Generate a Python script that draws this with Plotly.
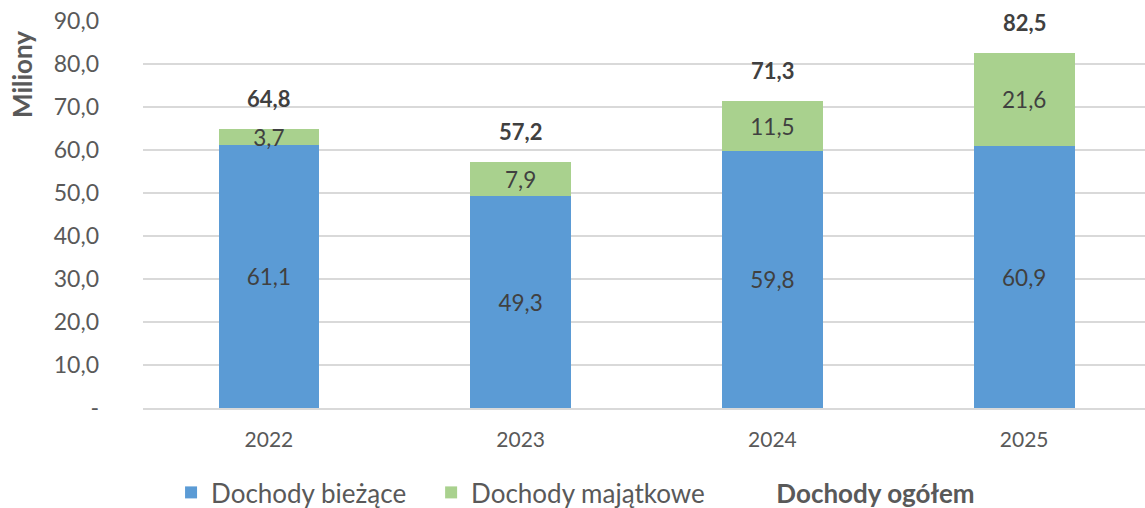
import plotly.graph_objects as go

years = ["2022", "2023", "2024", "2025"]
biezace = [61.1, 49.3, 59.8, 60.9]
majatkowe = [3.7, 7.9, 11.5, 21.6]
ogolem = [64.8, 57.2, 71.3, 82.5]

y_ticks = [0, 10, 20, 30, 40, 50, 60, 70, 80, 90]
y_ticktext = ["-", "10,0", "20,0", "30,0", "40,0", "50,0", "60,0", "70,0", "80,0", "90,0"]

BLUE = "#5B9BD5"
GREEN = "#A9D18E"
TXT = "#404040"
GRAY = "#595959"
FONT = "Lato"
NB = "\u00a0"  # padding between legend entries


def pl(v):
    return f"{v:.1f}".replace(".", ",")


fig = go.Figure()
fig.add_trace(go.Bar(
    x=years, y=biezace, name="Dochody bieżące" + NB * 3,
    marker=dict(color=BLUE, line=dict(width=0)),
    text=[pl(v) for v in biezace], textposition="inside",
    insidetextanchor="middle", textfont=dict(size=22.5, color=TXT),
    width=0.4,
))
fig.add_trace(go.Bar(
    x=years, y=majatkowe, name="Dochody majątkowe" + NB * 4,
    marker=dict(color=GREEN, line=dict(width=0)),
    text=[pl(v) for v in majatkowe], textposition="inside",
    insidetextanchor="middle", textfont=dict(size=22.5, color=TXT),
    width=0.4,
))
# total series: invisible line, only legend entry
fig.add_trace(go.Scatter(
    x=years, y=ogolem, name="<b>Dochody ogółem</b>", mode="lines",
    line=dict(color="rgba(0,0,0,0)"),
))
# total labels above the stacks (x given as category index)
for i, v in enumerate(ogolem):
    fig.add_annotation(x=i, y=v, text=f"<b>{pl(v)}</b>", showarrow=False,
                       yshift=31, font=dict(size=22, color=TXT, family=FONT))

fig.add_annotation(xref="paper", yref="paper", x=-0.1208, y=0.863,
                   xanchor="center", yanchor="middle",
                   text="<b>Miliony</b>", textangle=-90, showarrow=False,
                   font=dict(size=26, color=GRAY, family=FONT))

# figure is a bit taller than the window, the legend sits at the cropped bottom edge
fig.update_layout(
    barmode="stack",
    width=1145, height=516,
    margin=dict(l=143, r=0, t=21, b=107),
    paper_bgcolor="white", plot_bgcolor="white",
    font=dict(family=FONT, color=TXT, size=21),
    uniformtext=dict(minsize=22.5, mode="show"),
    showlegend=True,
    legend=dict(orientation="h", x=0.028, xanchor="left", y=-0.219, yanchor="middle",
                font=dict(size=26, color=GRAY), traceorder="normal",
                itemwidth=30),
)
fig.update_xaxes(type="category", range=[-0.5, 3.48], showgrid=False, showline=True,
                 linecolor="#D9D9D9", linewidth=1.5, ticks="",
                 ticklabelstandoff=12,
                 tickfont=dict(size=21, color=GRAY))
fig.update_yaxes(range=[0, 90], tickvals=y_ticks, ticktext=y_ticktext,
                 showgrid=True, gridcolor="#D9D9D9", gridwidth=1.5,
                 zeroline=False, ticks="", ticklabelstandoff=43, automargin=False,
                 ticklabeloverflow="allow",
                 tickfont=dict(size=23, color=GRAY))

# drop the default page margin so the figure fills the window
fig.write_html("out.html", config={"displayModeBar": False},
               post_script="document.body.style.margin='0';")
